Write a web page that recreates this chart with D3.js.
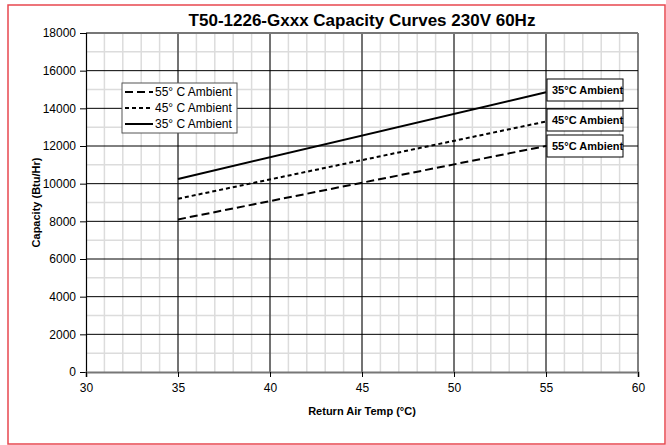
<!DOCTYPE html>
<html><head><meta charset="utf-8">
<script src="https://cdn.jsdelivr.net/npm/d3@7"></script>
<style>body{margin:0;background:#fff}svg{display:block}text{font-family:"Liberation Sans",Arial,Helvetica,sans-serif}</style>
</head><body>
<svg id="c" width="666" height="445"></svg>
<script>
const temps = [35, 55];
const seriesNames = ["55° C Ambient", "45° C Ambient", "35° C Ambient"];
const endLabels = ["55°C Ambient", "45°C Ambient", "35°C Ambient"];
const values55 = [8100, 12000];
const values45 = [9200, 13300];
const values35 = [10250, 14850];
const xTicks = [30, 35, 40, 45, 50, 55, 60];
const yTicks = [0, 2000, 4000, 6000, 8000, 10000, 12000, 14000, 16000, 18000];
const title = "T50-1226-Gxxx Capacity Curves 230V 60Hz";

const series = [
  {name: seriesNames[0], label: endLabels[0], vals: values55, dash: "8,4"},
  {name: seriesNames[1], label: endLabels[1], vals: values45, dash: "4,3"},
  {name: seriesNames[2], label: endLabels[2], vals: values35, dash: null}
];

const svg = d3.select("#c");
svg.append("rect").attr("x", 8).attr("y", 5).attr("width", 657).attr("height", 439)
  .attr("fill", "none").attr("stroke", "#e8474f").attr("stroke-width", 1.5);

const L = 86, R = 638, T = 33, B = 372;
const x = d3.scaleLinear().domain([30, 60]).range([L, R]);
const y = d3.scaleLinear().domain([0, 18000]).range([B, T]);

const g = svg.append("g");
// minor grid
g.selectAll(".mx").data(d3.range(31, 60)).join("line")
  .attr("x1", d => x(d)).attr("x2", d => x(d)).attr("y1", T).attr("y2", B)
  .attr("stroke", "#dcdcdc").attr("stroke-width", 1.5);
g.selectAll(".my").data(d3.range(1000, 18000, 2000)).join("line")
  .attr("y1", d => y(d)).attr("y2", d => y(d)).attr("x1", L).attr("x2", R)
  .attr("stroke", "#dcdcdc").attr("stroke-width", 1.5);
// major grid
g.selectAll(".Mx").data(xTicks.slice(1)).join("line")
  .attr("x1", d => x(d)).attr("x2", d => x(d)).attr("y1", T).attr("y2", B)
  .attr("stroke", "#000").attr("stroke-width", 1);
g.selectAll(".My").data(yTicks.slice(1, -1)).join("line")
  .attr("y1", d => y(d)).attr("y2", d => y(d)).attr("x1", L).attr("x2", R)
  .attr("stroke", "#000").attr("stroke-width", 1);
// top and bottom border lines
g.append("line").attr("x1", L).attr("x2", R).attr("y1", y(18000)).attr("y2", y(18000))
  .attr("stroke", "#777").attr("stroke-width", 2);

// axes
const ya = svg.append("g").attr("transform", `translate(${L},0)`)
  .call(d3.axisLeft(y).tickValues(yTicks).tickSize(6).tickPadding(4).tickFormat(d3.format("d")));
ya.select(".domain").attr("stroke", "#000").attr("stroke-width", 1.2);
ya.selectAll(".tick line").attr("stroke", "#000");
ya.selectAll("text").attr("font-size", 12).attr("fill", "#000");

const xa = svg.append("g").attr("transform", `translate(0,${B})`)
  .call(d3.axisBottom(x).tickValues(xTicks).tickSize(5).tickPadding(6));
xa.select(".domain").attr("stroke", "#777").attr("stroke-width", 2);
xa.selectAll(".tick line").attr("stroke", "#000");
xa.selectAll("text").attr("font-size", 12).attr("fill", "#000");

// lines
const line = d3.line().x((d, i) => x(temps[i])).y(d => y(d));
series.forEach(s => {
  svg.append("path").datum(s.vals).attr("d", line)
    .attr("fill", "none").attr("stroke", "#000").attr("stroke-width", 2)
    .attr("stroke-dasharray", s.dash);
});

// end labels
const boxX = x(55) + 1, boxW = 76, boxH = 22;
const boxCY = [146, 120, 90];
series.forEach((s, i) => {
  const cy = boxCY[i];
  svg.append("rect").attr("x", boxX).attr("y", cy - boxH / 2).attr("width", boxW).attr("height", boxH)
    .attr("fill", "#fff").attr("stroke", "#000").attr("stroke-width", 1);
  svg.append("text").attr("x", boxX + 5).attr("y", cy + 4).attr("font-size", 11)
    .attr("font-weight", "bold").text(s.label);
});

// legend
const lg = svg.append("g");
lg.append("rect").attr("x", 122).attr("y", 83).attr("width", 115).attr("height", 50)
  .attr("fill", "#fff").attr("stroke", "#555").attr("stroke-width", 1);
series.forEach((s, i) => {
  const yy = 92 + i * 16;
  lg.append("line").attr("x1", 125).attr("x2", 153).attr("y1", yy).attr("y2", yy)
    .attr("stroke", "#000").attr("stroke-width", 2).attr("stroke-dasharray", s.dash);
  lg.append("text").attr("x", 155).attr("y", yy + 4).attr("font-size", 12).text(s.name);
});

// titles
svg.append("text").attr("x", (L + R) / 2).attr("y", 26).attr("text-anchor", "middle")
  .attr("font-size", 17).attr("font-weight", "bold").text(title);
svg.append("text").attr("x", (L + R) / 2).attr("y", 415).attr("text-anchor", "middle")
  .attr("font-size", 11).attr("font-weight", "bold").text("Return Air Temp (°C)");
svg.append("text").attr("transform", `translate(40,${(T + B) / 2}) rotate(-90)`)
  .attr("text-anchor", "middle").attr("font-size", 11).attr("font-weight", "bold")
  .text("Capacity (Btu/Hr)");
</script>
</body></html>
